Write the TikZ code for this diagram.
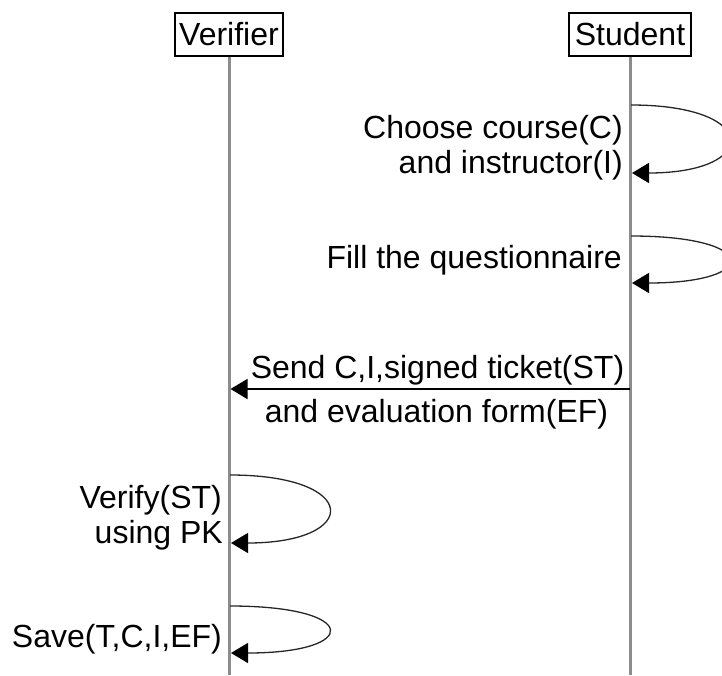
\documentclass[tikz,border=0pt]{standalone}
\usepackage{fontspec}
\setmainfont{Liberation Sans}
\usetikzlibrary{arrows.meta}
\begin{document}
\begin{tikzpicture}[x=1pt,y=-1pt,
  txt/.style={font=\fontsize{32}{36}\selectfont, inner sep=0pt, text=black},
  headbox/.style={draw=black, line width=1.3pt, fill=white, minimum height=43pt,
    inner sep=0pt, font=\fontsize{32}{36}\selectfont},
  lifeline/.style={draw=black!45, line width=3pt},
  selfmsg/.style={draw=black!85, line width=1.3pt,
    -{Triangle[length=17pt,width=20pt,color=black]}},
  msg/.style={draw=black, line width=1.6pt,
    -{Triangle[length=17pt,width=20pt]}}
]
\useasboundingbox (0,0) rectangle (722,675);

% participants and their lifelines
\node[headbox, minimum width=108pt] (verifier) at (229,34.5) {Verifier};
\node[headbox, minimum width=122pt] (student) at (630,34.5) {Student};
\coordinate (vbot) at (229,675);
\coordinate (sbot) at (630,675);
\draw[lifeline] (verifier.south) -- (vbot);
\draw[lifeline] (student.south) -- (sbot);

% Student: choose course and instructor
\coordinate (s1a) at (631,105);
\coordinate (s1b) at (632,173);
\draw[selfmsg] (s1a) .. controls (761,105) and (761,173) .. (s1b);
\node[txt, anchor=base east] (s1t1) at (623,138) {Choose course(C)};
\node[txt, anchor=base east] (s1t2) at (623,173) {and instructor(I)};

% Student: fill the questionnaire
\coordinate (s2a) at (631,236);
\coordinate (s2b) at (632,283);
\draw[selfmsg] (s2a) .. controls (761,236) and (761,283) .. (s2b);
\node[txt, anchor=base east] (s2t) at (622,268) {Fill the questionnaire};

% Student -> Verifier
\coordinate (m1a) at (630,389);
\coordinate (m1b) at (230.5,389);
\draw[msg] (m1a) -- (m1b);
\node[txt, anchor=base] (m1t1) at (437.5,378) {Send C,I,signed ticket(ST)};
\node[txt, anchor=base] (m1t2) at (436.5,422) {and evaluation form(EF)};

% Verifier: verify ticket
\coordinate (v1a) at (230,475);
\coordinate (v1b) at (231,543);
\draw[selfmsg] (v1a) .. controls (361,475) and (361,543) .. (v1b);
\node[txt, anchor=base east] (v1t1) at (222,508) {Verify(ST)};
\node[txt, anchor=base east] (v1t2) at (223,543) {using PK};

% Verifier: save
\coordinate (v2a) at (230,606);
\coordinate (v2b) at (231,653);
\draw[selfmsg] (v2a) .. controls (361,606) and (361,653) .. (v2b);
\node[txt, anchor=base east] (v2t) at (222,647) {Save(T,C,I,EF)};
\end{tikzpicture}
\end{document}
